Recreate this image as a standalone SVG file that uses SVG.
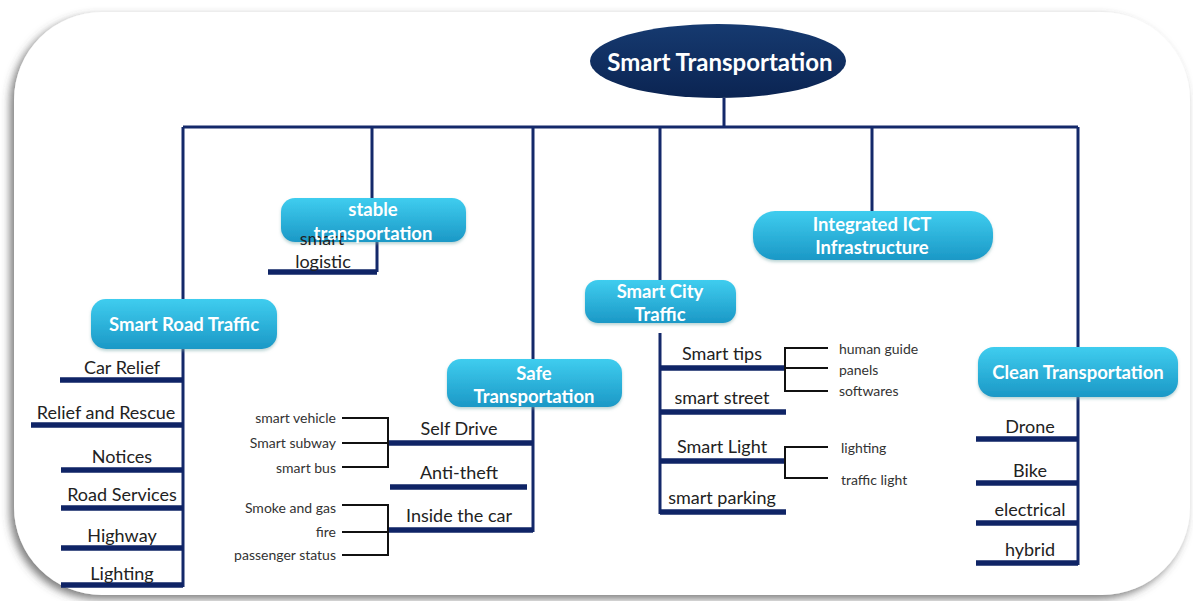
<svg xmlns="http://www.w3.org/2000/svg" width="1193" height="601" viewBox="0 0 1193 601">
<defs>
<linearGradient id="boxg" x1="0" y1="0" x2="0" y2="1">
<stop offset="0" stop-color="#3fcdef"/>
<stop offset="1" stop-color="#1b98c6"/>
</linearGradient>
<linearGradient id="rootg" x1="0" y1="0" x2="0" y2="1">
<stop offset="0" stop-color="#163a70"/>
<stop offset="1" stop-color="#0b2452"/>
</linearGradient>
<filter id="frameShadow" x="-5%" y="-5%" width="110%" height="112%">
<feDropShadow dx="-4" dy="4" stdDeviation="4" flood-color="#444" flood-opacity="0.7"/>
</filter>
<filter id="boxShadow" x="-10%" y="-20%" width="120%" height="150%">
<feDropShadow dx="0" dy="2" stdDeviation="1.5" flood-color="#7aa" flood-opacity="0.5"/>
</filter>
<style>
.box{fill:url(#boxg);filter:url(#boxShadow)}
.bt{font-family:Lato,"Liberation Sans",sans-serif;font-weight:bold;font-size:18.5px;fill:#fff;text-anchor:middle}
.ct{font-family:Lato,"Liberation Sans",sans-serif;font-size:18px;fill:#222;text-anchor:middle}
.st{font-family:Lato,"Liberation Sans",sans-serif;font-size:14px;fill:#333}
.ln{stroke:#14296a;stroke-width:3;fill:none}
.bar{stroke:#0f2466;stroke-width:5.5;fill:none}
.br{stroke:#111;stroke-width:2;fill:none}
</style>
</defs>
<rect width="1193" height="601" fill="#fff"/>
<rect x="14" y="12" width="1176" height="583" rx="88" ry="88" fill="#fff" filter="url(#frameShadow)"/>

<g id="connectors">
<path class="ln" d="M724 98 V127 M183 127 H1078 M183 127 V299 M372 127 V198 M533 127 V359 M660 127 V280 M872 127 V211 M1078 127 V347"/>
<path class="ln" d="M183 349 V587 M377 242 V272 M533 407 V532 M660 333 V514 M1078 397 V565"/>
<path class="bar" d="M60 380 H183 M31 425 H183 M61 470 H183 M61 508 H183 M61 548 H183 M61 585 H183"/>
<path class="bar" d="M268 272 H377"/>
<path class="bar" d="M388 443 H533 M390 487 H527 M388 530 H533"/>
<path class="br" d="M342 418 H388 V467 H342 M342 443 H388 M342 505 H388 V555 H342 M342 532 H388"/>
<path class="bar" d="M660 368 H785 M660 412 H786 M660 461 H785 M660 512 H786"/>
<path class="br" d="M828 348 H785 V391 H828 M785 368 H828 M828 447 H785 V478 H828"/>
<path class="bar" d="M976 439 H1078 M976 483 H1078 M976 523 H1078 M976 563 H1078"/>
</g>

<g id="root">
<ellipse cx="718" cy="61" rx="128" ry="37" fill="url(#rootg)"/>
<text x="720" y="71" font-family="Lato,'Liberation Sans',sans-serif" font-weight="bold" font-size="24" fill="#fff" text-anchor="middle">Smart Transportation</text>
</g>

<g id="smart-road-traffic">
<rect class="box" x="91" y="299" width="186" height="50" rx="15"/>
<text class="bt" x="184" y="331">Smart Road Traffic</text>
<text class="ct" x="122" y="374">Car Relief</text>
<text class="ct" x="106" y="419">Relief and Rescue</text>
<text class="ct" x="122" y="463">Notices</text>
<text class="ct" x="122" y="501">Road Services</text>
<text class="ct" x="122" y="542">Highway</text>
<text class="ct" x="122" y="580">Lighting</text>
</g>

<g id="stable-transportation">
<rect class="box" x="281" y="198" width="185" height="44" rx="14"/>
<text class="ct" x="322" y="245">smart</text>
<text class="bt" x="373" y="216">stable</text>
<text class="bt" x="373" y="240">transportation</text>
<text class="ct" x="323" y="268">logistic</text>
</g>

<g id="safe-transportation">
<rect class="box" x="447" y="359" width="175" height="48" rx="14"/>
<text class="bt" x="534" y="380">Safe</text>
<text class="bt" x="534" y="403">Transportation</text>
<text class="ct" x="459" y="435">Self Drive</text>
<text class="ct" x="459" y="479">Anti-theft</text>
<text class="ct" x="459" y="522">Inside the car</text>
<text class="st" x="336" y="423" text-anchor="end">smart vehicle</text>
<text class="st" x="336" y="448" text-anchor="end">Smart subway</text>
<text class="st" x="336" y="473" text-anchor="end">smart bus</text>
<text class="st" x="336" y="513" text-anchor="end">Smoke and gas</text>
<text class="st" x="336" y="537" text-anchor="end">fire</text>
<text class="st" x="336" y="560" text-anchor="end">passenger status</text>
</g>

<g id="smart-city-traffic">
<rect class="box" x="585" y="280" width="151" height="43" rx="13"/>
<text class="bt" x="660" y="298">Smart City</text>
<text class="bt" x="660" y="321">Traffic</text>
<text class="ct" x="722" y="360">Smart tips</text>
<text class="ct" x="722" y="404">smart street</text>
<text class="ct" x="722" y="453">Smart Light</text>
<text class="ct" x="722" y="504">smart parking</text>
<text class="st" x="839" y="354">human guide</text>
<text class="st" x="839" y="375">panels</text>
<text class="st" x="839" y="396">softwares</text>
<text class="st" x="841" y="453">lighting</text>
<text class="st" x="841" y="485">traffic light</text>
</g>

<g id="integrated-ict">
<rect class="box" x="753" y="211" width="240" height="49" rx="22"/>
<text class="bt" x="872" y="231">Integrated ICT</text>
<text class="bt" x="872" y="254">Infrastructure</text>
</g>

<g id="clean-transportation">
<rect class="box" x="978" y="347" width="200" height="50" rx="16"/>
<text class="bt" x="1078" y="379">Clean Transportation</text>
<text class="ct" x="1030" y="433">Drone</text>
<text class="ct" x="1030" y="477">Bike</text>
<text class="ct" x="1030" y="516">electrical</text>
<text class="ct" x="1030" y="556">hybrid</text>
</g>
</svg>
